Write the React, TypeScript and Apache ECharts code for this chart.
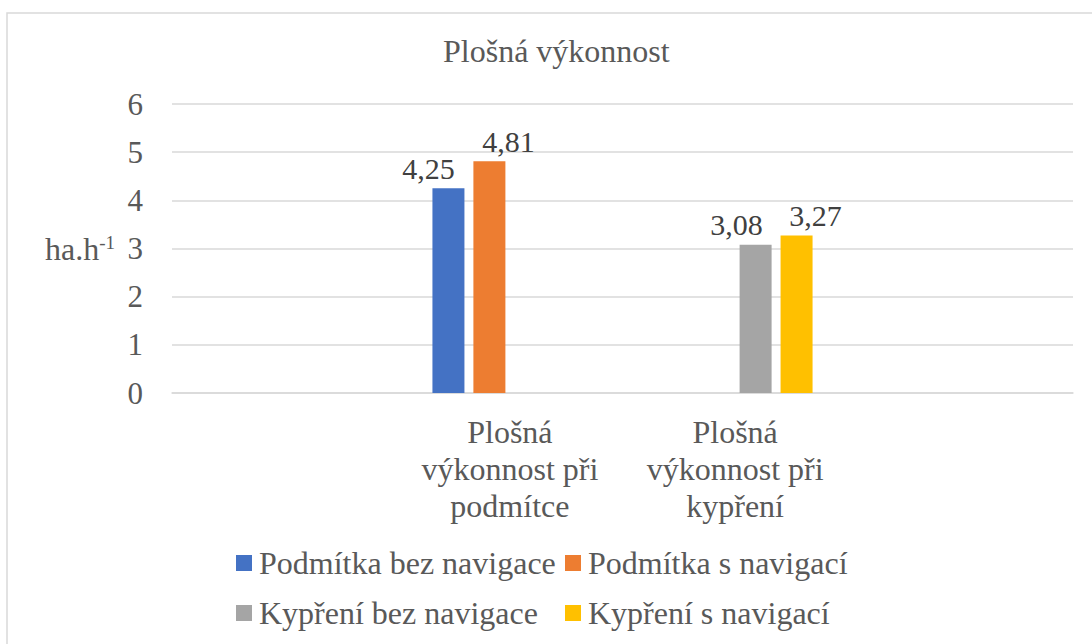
import React, { useEffect, useRef } from "react";
import * as echarts from "echarts";

const categories = ["", "Plošná\nvýkonnost při\npodmítce", "Plošná\nvýkonnost při\nkypření", ""];
const seriesNames = ["Podmítka bez navigace", "Podmítka s navigací", "Kypření bez navigace", "Kypření s navigací"];
const podmitkaBez = [null, 4.25, null, null];
const podmitkaS = [null, 4.81, null, null];
const kypreniBez = [null, null, 3.08, null];
const kypreniS = [null, null, 3.27, null];
const seriesValues = [podmitkaBez, podmitkaS, kypreniBez, kypreniS];
const colors = ["#4472C4", "#ED7D31", "#A5A5A5", "#FFC000"];
const yTicks = [0, 1, 2, 3, 4, 5, 6];

const FONT = "Liberation Serif";

export default function App() {
  const ref = useRef<HTMLDivElement>(null);
  useEffect(() => {
    document.body.style.margin = "0";
    const chart = echarts.init(ref.current!, null, { renderer: "svg" });
    const labelOffsets = [[-20, 0], [19, 0], [-19, 0], [19, 0]];
    const legendPos = [
      { left: 236, top: 547 },
      { left: 565, top: 547 },
      { left: 236, top: 597 },
      { left: 565, top: 597 },
    ];
    chart.setOption({
      animation: false,
      backgroundColor: "#ffffff",
      title: {
        text: "Plošná výkonnost",
        left: 443,
        top: 35,
        padding: 0,
        textStyle: { fontFamily: FONT, fontSize: 32, fontWeight: "normal", color: "#595959" },
      },
      graphic: [
        {
          type: "rect",
          shape: { x: 7, y: 13, width: 1300, height: 800 },
          style: { fill: "none", stroke: "#d9d9d9", lineWidth: 1.5 },
          silent: true,
        },
      ],
      legend: seriesNames.map((n, i) => ({
        data: [n],
        left: legendPos[i].left,
        top: legendPos[i].top,
        padding: 0,
        icon: "rect",
        itemWidth: 16,
        itemHeight: 16,
        textStyle: { fontFamily: FONT, fontSize: 32, color: "#595959", padding: [0, 0, 0, 2] },
      })),
      grid: { left: 172, right: 19, top: 104, bottom: 251, containLabel: false },
      xAxis: {
        type: "category",
        data: categories,
        axisLine: { lineStyle: { color: "#d9d9d9", width: 1.5 } },
        axisTick: { length: 7, lineStyle: { color: "#d9d9d9", width: 1.5 } },
        axisLabel: {
          interval: 0,
          margin: 20,
          lineHeight: 37,
          fontFamily: FONT,
          fontSize: 32,
          color: "#595959",
        },
      },
      yAxis: {
        type: "value",
        min: yTicks[0],
        max: yTicks[yTicks.length - 1],
        interval: 1,
        name: "ha.h{sup|-1}",
        nameLocation: "middle",
        nameRotate: 0,
        nameGap: 57,
        nameTextStyle: {
          fontFamily: FONT,
          fontSize: 32,
          color: "#595959",
          align: "right",
          rich: {
            sup: { fontFamily: FONT, fontSize: 19, color: "#595959", verticalAlign: "top", padding: [0, 0, 12, 0] },
          },
        },
        axisLine: { show: false },
        axisTick: { show: false },
        axisLabel: { margin: 29, fontFamily: FONT, fontSize: 31, color: "#595959" },
        splitLine: { lineStyle: { color: "#d9d9d9", width: 1.5 } },
      },
      series: seriesNames.map((n, i) => ({
        name: n,
        type: "bar",
        data: seriesValues[i],
        barWidth: 32,
        barGap: "28%",
        itemStyle: { color: colors[i] },
        label: {
          show: true,
          position: "top",
          distance: 5,
          offset: labelOffsets[i],
          fontFamily: FONT,
          fontSize: 30,
          color: "#404040",
          formatter: (p: any) => (p.value == null ? "" : Number(p.value).toFixed(2).replace(".", ",")),
        },
      })),
    });
    return () => chart.dispose();
  }, []);
  return <div ref={ref} style={{ width: 1092, height: 644 }} />;
}
